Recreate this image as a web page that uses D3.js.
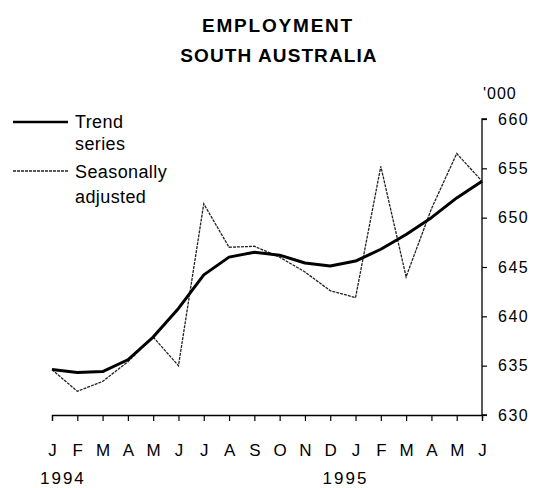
<!DOCTYPE html>
<html>
<head>
<meta charset="utf-8">
<script src="https://cdn.jsdelivr.net/npm/d3@7"></script>
<style>
  html, body { margin: 0; padding: 0; background: #fff; }
  svg { display: block; }
  text { font-family: "Liberation Sans", Arial, sans-serif; fill: #000; }
</style>
</head>
<body>
<div id="plot"></div>
<script>
const w = 535;
const h = 488;
const margin = { top: 119, right: 53, bottom: 73, left: 52 };
const innerWidth = w - margin.left - margin.right;
const innerHeight = h - margin.top - margin.bottom;

const months = ["J", "F", "M", "A", "M", "J", "J", "A", "S", "O", "N", "D", "J", "F", "M", "A", "M", "J"];
const years = ["1994", "1995"];
const trend = [634.6, 634.3, 634.4, 635.6, 637.9, 640.8, 644.2, 646.0, 646.5, 646.2, 645.4, 645.1, 645.6, 646.8, 648.3, 650.0, 652.0, 653.7];
const seasonal = [634.6, 632.4, 633.4, 635.4, 637.9, 635.0, 651.4, 647.0, 647.1, 646.0, 644.5, 642.6, 641.9, 655.2, 644.0, 650.9, 656.5, 653.7];
const yTicks = [630, 635, 640, 645, 650, 655, 660];

const svg = d3.select("div#plot")
  .append("svg")
  .attr("width", w)
  .attr("height", h);

const xScale = d3.scaleLinear()
  .domain([0, months.length - 1])
  .range([0, innerWidth]);

const yScale = d3.scaleLinear()
  .domain([630, 660])
  .range([innerHeight, 0]);

const line = d3.line()
  .x((d, i) => xScale(i))
  .y(d => yScale(d));

const plotGroup = svg.append("g")
  .attr("transform", `translate(${margin.left}, ${margin.top})`);

// axes
const xAxis = d3.axisBottom(xScale)
  .tickValues(d3.range(months.length))
  .tickSize(6)
  .tickPadding(23)
  .tickFormat(i => months[i]);

const yAxis = d3.axisRight(yScale)
  .tickValues(yTicks)
  .tickSize(5)
  .tickPadding(11);

const gx = plotGroup.append("g")
  .attr("transform", `translate(0, ${innerHeight})`)
  .call(xAxis);

const gy = plotGroup.append("g")
  .attr("transform", `translate(${innerWidth}, 0)`)
  .call(yAxis);

[gx, gy].forEach(g => {
  g.select(".domain").attr("stroke", "#000").attr("stroke-width", 1.3);
  g.selectAll(".tick line").attr("stroke", "#000").attr("stroke-width", 1.2);
  g.selectAll(".tick text")
    .attr("font-family", "'Liberation Sans', Arial, sans-serif")
    .attr("font-size", "16px")
    .attr("fill", "#000");
});
gx.selectAll(".tick text").attr("font-size", "17px");
gy.selectAll(".tick text").attr("letter-spacing", "1.5px");
gy.select(".domain").attr("d", `M5,0H0V${innerHeight}H5`);

// series
plotGroup.append("path")
  .datum(seasonal)
  .attr("d", line)
  .attr("fill", "none")
  .attr("stroke", "#222")
  .attr("stroke-width", 1.3)
  .attr("stroke-dasharray", "3,1");

plotGroup.append("path")
  .datum(trend)
  .attr("d", line)
  .attr("fill", "none")
  .attr("stroke", "#000")
  .attr("stroke-width", 3)
  .attr("stroke-linejoin", "round");

// year labels
svg.append("text")
  .attr("x", margin.left + xScale(0) - 12)
  .attr("y", 484)
  .attr("font-size", "17px")
  .attr("letter-spacing", "2px")
  .text(years[0]);

svg.append("text")
  .attr("x", margin.left + xScale(12) - 33)
  .attr("y", 484)
  .attr("font-size", "17px")
  .attr("letter-spacing", "2px")
  .text(years[1]);

// unit label
svg.append("text")
  .attr("x", 483)
  .attr("y", 99)
  .attr("font-size", "16px")
  .attr("letter-spacing", "1px")
  .text("'000");

// title
svg.append("text")
  .attr("x", 278)
  .attr("y", 32)
  .attr("text-anchor", "middle")
  .attr("font-size", "19px")
  .attr("font-weight", "bold")
  .attr("letter-spacing", "1.8px")
  .text("EMPLOYMENT");

svg.append("text")
  .attr("x", 279)
  .attr("y", 62)
  .attr("text-anchor", "middle")
  .attr("font-size", "19px")
  .attr("font-weight", "bold")
  .attr("letter-spacing", "1.1px")
  .text("SOUTH AUSTRALIA");

// legend
const legend = svg.append("g");
legend.append("line")
  .attr("x1", 13).attr("x2", 68)
  .attr("y1", 122).attr("y2", 122)
  .attr("stroke", "#000").attr("stroke-width", 2.5);
legend.append("line")
  .attr("x1", 13).attr("x2", 68)
  .attr("y1", 171).attr("y2", 171)
  .attr("stroke", "#222").attr("stroke-width", 1.3)
  .attr("stroke-dasharray", "3,1");

[["Trend", 128], ["series", 150], ["Seasonally", 178], ["adjusted", 203]].forEach(([t, y]) => {
  legend.append("text")
    .attr("x", 75)
    .attr("y", y)
    .attr("font-size", "18px")
    .attr("letter-spacing", "0.4px")
    .text(t);
});
</script>
</body>
</html>
